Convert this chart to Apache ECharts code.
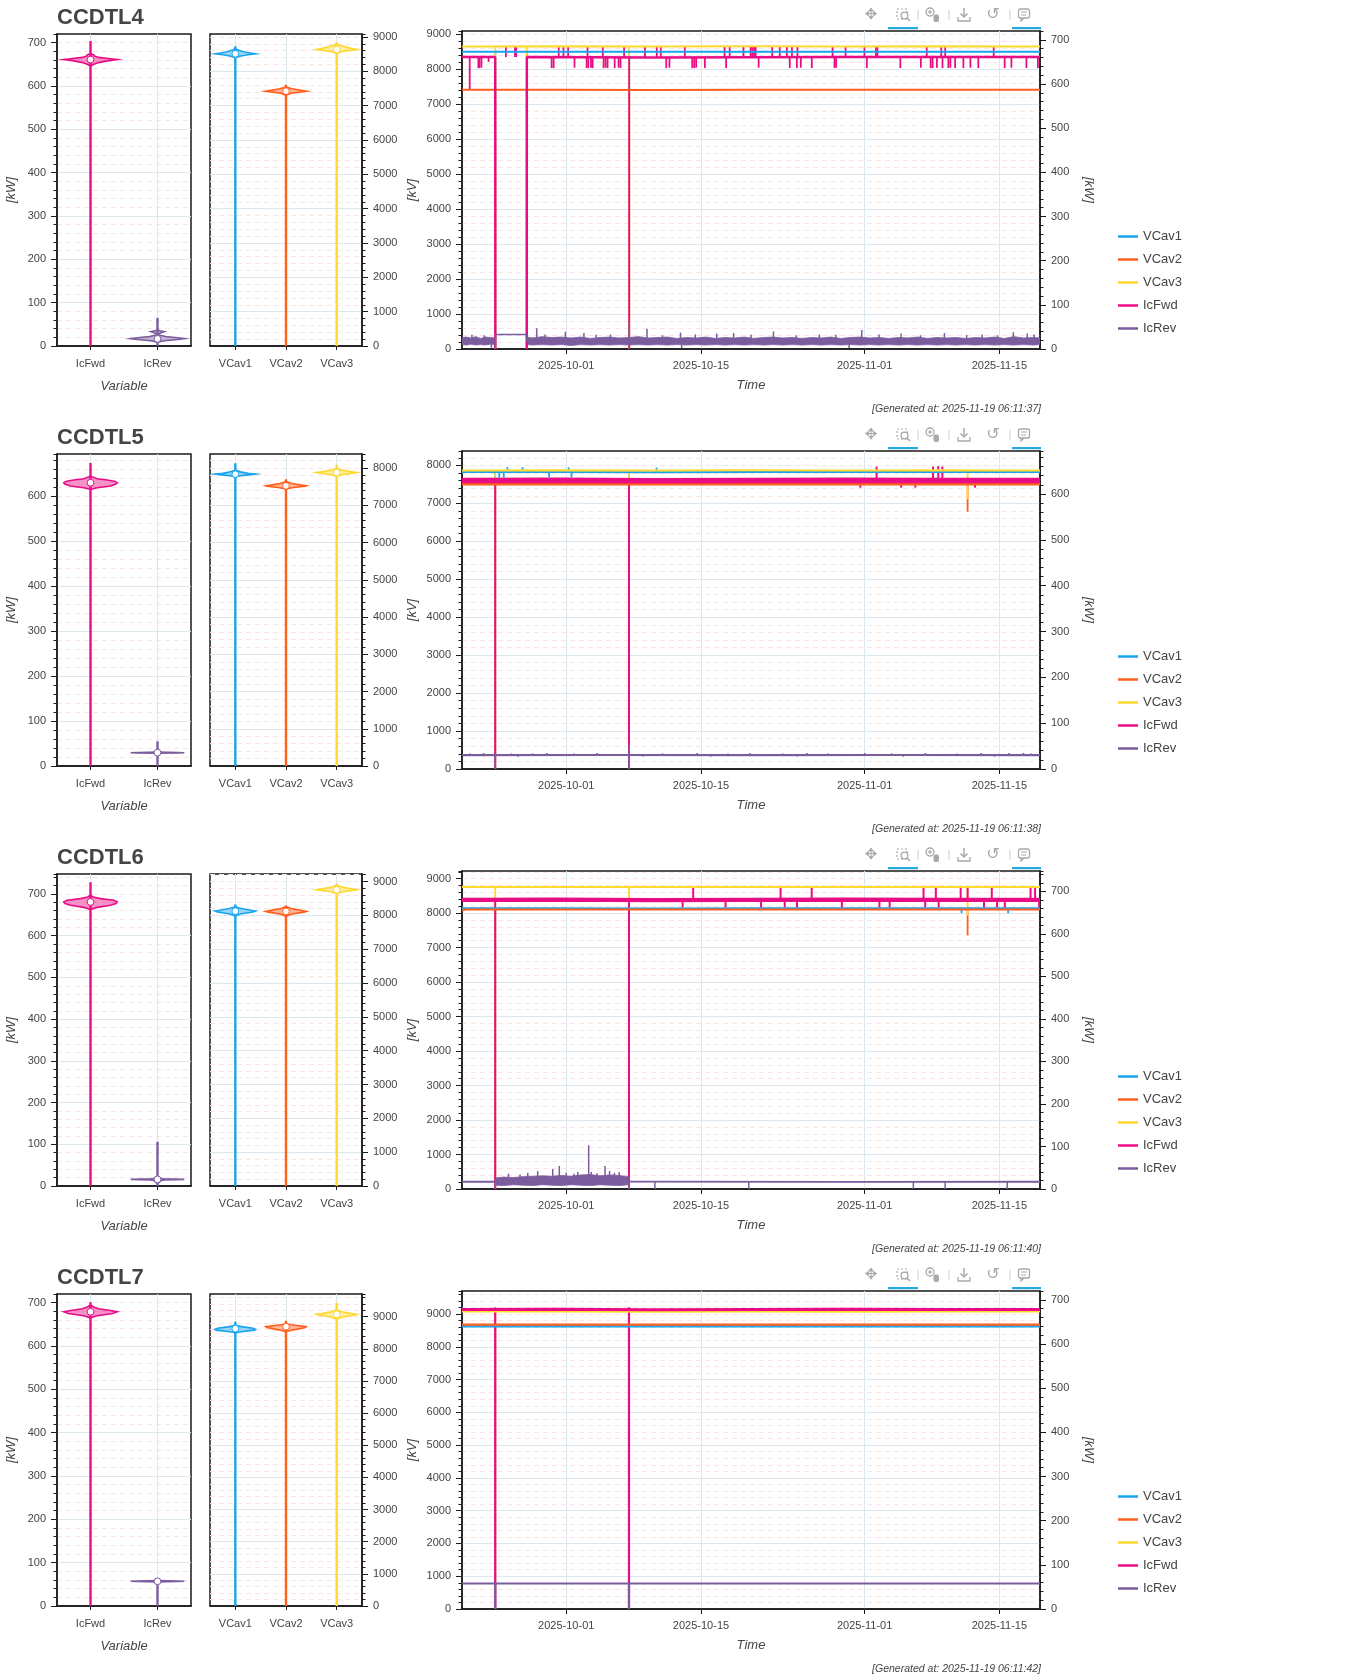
<!DOCTYPE html>
<html><head><meta charset="utf-8">
<script src="https://cdn.jsdelivr.net/npm/echarts@6/dist/echarts.min.js"></script>
<style>html,body{margin:0;padding:0;background:#fff;width:1354px;height:1680px;overflow:hidden}.panel{position:absolute;left:0;width:1354px;height:420px}</style>
</head><body>
<div id="p0" class="panel" style="top:0px"></div>
<div id="p1" class="panel" style="top:420px"></div>
<div id="p2" class="panel" style="top:840px"></div>
<div id="p3" class="panel" style="top:1260px"></div>
<script>
// ---------------- shared data ----------------
const categoriesKW = ['IcFwd', 'IcRev'];
const categoriesKV = ['VCav1', 'VCav2', 'VCav3'];
const seriesNames = ['VCav1', 'VCav2', 'VCav3', 'IcFwd', 'IcRev'];
const dateTickDays = [11, 25, 42, 56];            // days after 2025-09-20 00:00
const dateTickLabels = ['2025-10-01', '2025-10-15', '2025-11-01', '2025-11-15'];
const timeRange = [0.17, 60.22];
const kwTicks = [0, 100, 200, 300, 400, 500, 600, 700];
const kvTicks9 = [0, 1000, 2000, 3000, 4000, 5000, 6000, 7000, 8000, 9000];
const kvTicks8 = [0, 1000, 2000, 3000, 4000, 5000, 6000, 7000, 8000];
const panelTitles = ['CCDTL4', 'CCDTL5', 'CCDTL6', 'CCDTL7'];
const generatedTexts = ['[Generated at: 2025-11-19 06:11:37]', '[Generated at: 2025-11-19 06:11:38]',
  '[Generated at: 2025-11-19 06:11:40]', '[Generated at: 2025-11-19 06:11:42]'];
const kwAxisMax = [720, 694, 748, 720];
const kvAxisMax = [9085, 8380, 9222, 9705];

// ---------------- CCDTL4 ----------------
const c4_vIcFwd = [[646,0],[650,0.05],[654,0.12],[658,0.25],[661,0.4],[663,0.3],[666,0.12],[669,0.06],[672,0.05],[675,0]];
const c4_vIcRev = [[9,0],[12,0.1],[15,0.3],[17,0.4],[19,0.3],[22,0.12],[25,0.04],[28,0.02],[31,0.06],[33,0.1],[35,0.04],[37,0]];
const c4_vVCav1 = [[8390,0],[8440,0.08],[8480,0.25],[8506,0.4],[8530,0.3],[8570,0.16],[8620,0.06],[8660,0]];
const c4_vVCav2 = [[7300,0],[7360,0.1],[7400,0.3],[7420,0.4],[7445,0.3],[7490,0.12],[7540,0]];
const c4_vVCav3 = [[8520,0],[8580,0.12],[8620,0.35],[8632,0.4],[8660,0.3],[8720,0.15],[8790,0]];
const c4_kwMed = [661, 16.5], c4_kwMax = [704, 65];
const c4_kvMed = [8506, 7420, 8632], c4_kvMax = [8729, 7604, 8845];

const c4_VCav1 = [[0.17,8492],[8,8495],[16,8490],[24,8494],[32,8489],[40,8493],[48,8490],[56,8494],[60.22,8491]];
const c4_VCav2 = [[0.17,7405],[10,7408],[20,7402],[30,7406],[40,7403],[50,7407],[60.22,7404]];
const c4_VCav3 = [[0.17,8645],[10,8648],[20,8643],[30,8647],[40,8644],[50,8648],[60.22,8645]];
const c4_IcFwd = [[0.17,661],[3.62,661],[3.63,0],[5.2,null],[6.90,0],[6.91,661],[20,660],[40,661],[60.22,661]];
const c4_IcRev = [[0.17,17],[3.62,17],[3.63,0],[3.65,33],[6.89,33],[6.91,17],[60.22,17]];
const c4_VCav1_spk = [[3.63,0],[6.90,0],[17.54,0]];
const c4_VCav2_spk = [[3.63,0],[6.90,0],[17.54,0]];
const c4_VCav3_spk = [[3.63,0],[6.90,0],[17.54,0]];
const c4_IcFwd_spk = [[0.97,588],[17.54,0],
  [4.73,684],[5.67,684],[5.80,685],[10.22,684],[10.71,684],[11.20,685],[13.21,684],[14.80,684],[17.01,685],[19.18,684],
  [20.41,684],[20.82,684],[23.32,685],[27.45,684],[27.98,684],[29.41,685],[30.15,684],[30.32,684],[30.52,685],[30.68,684],
  [32.40,684],[33.18,684],[33.92,685],[34.45,684],[35.02,684],[38.67,685],[40.02,684],[41.98,684],[43.17,685],[43.33,684],
  [48.45,684],[49.96,685],[50.37,684],[55.41,684],
  [1.87,636],[1.99,636],[2.19,637],[2.93,650],[9.48,636],[9.69,636],[11.86,637],[13.12,636],[13.29,636],[13.57,637],
  [13.74,636],[14.88,636],[15.09,637],[15.29,636],[16.03,636],[16.44,637],[16.64,636],[21.39,636],[21.72,637],[24.09,636],
  [24.30,636],[24.50,637],[25.40,636],[27.61,636],[30.99,637],[34.22,636],[34.96,636],[35.37,637],[36.51,636],[38.87,636],
  [39.04,637],[42.23,636],[45.71,636],[47.84,637],[48.86,636],[49.06,636],[49.51,637],[50.09,636],[50.70,636],[50.91,637],
  [51.40,636],[52.26,636],[52.99,637],[53.81,636],[56.55,636],[57.25,637],[58.81,636],[60.0,636]];
const c4_IcRev_band = [
  [[0.17,10,26],[0.6,9,27],[1.1,11,25],[1.6,9,28],[2.1,10,24],[2.6,9,27],[3.1,11,26],[3.6,10,25]],
  [[6.92,10,27],[7.5,9,25],[8.5,10,28],[9.5,9,26],[10.5,10,27],[11.5,8,25],[12.5,10,27],[13.5,9,24],[14.5,10,26],
   [15.5,9,27],[16.5,10,25],[17.5,9,26],[18.5,10,28],[19.5,9,25],[20.5,10,26],[21.5,9,27],[22.5,10,24],[23.5,9,26],
   [24.5,10,25],[25.5,9,27],[26.5,10,24],[27.5,9,26],[28.5,10,25],[29.5,9,27],[30.5,10,24],[31.5,9,26],[32.5,10,27],
   [33.5,9,25],[34.5,10,26],[35.5,9,24],[36.5,10,26],[37.5,9,25],[38.5,10,27],[39.5,9,24],[40.5,10,26],[41.5,9,27],
   [42.5,10,25],[43.5,9,26],[44.5,10,24],[45.5,9,26],[46.5,10,25],[47.5,9,27],[48.5,10,24],[49.5,9,26],[50.5,10,25],
   [51.5,9,26],[52.5,10,24],[53.5,9,26],[54.5,10,25],[55.5,9,27],[56.5,10,24],[57.5,9,28],[58.5,10,25],[59.5,9,26],[60.22,10,25]]];
const c4_IcRev_spk = [[7.93,47],[10.91,39],[12.84,36],[17.54,62],[19.39,46],[22.87,37],[26.63,35],[28.39,36],[32.53,40],
  [41.70,43],[45.79,35],[50.29,36],[57.45,38],[58.89,35],[1.2,32],[2.5,31],[8.8,33],[14.1,32],[15.6,33],[21.0,31],
  [24.4,33],[30.2,32],[34.9,31],[37.3,33],[39.0,32],[43.5,33],[47.8,31],[52.6,32],[54.2,33],[55.8,31],[59.6,33],
  [3.22,3],[22.99,2],[40.39,2]];

// ---------------- CCDTL5 ----------------
const c5_vIcFwd = [[615,0],[619,0.1],[623,0.3],[627,0.38],[630,0.4],[633,0.37],[636,0.25],[639,0.1],[642,0.05],[645,0]];
const c5_vIcRev = [[28.5,0],[29.2,0.3],[29.6,0.4],[30.1,0.3],[30.8,0]];
const c5_vVCav1 = [[7760,0],[7800,0.12],[7830,0.35],[7840,0.4],[7860,0.25],[7900,0.1],[7950,0]];
const c5_vVCav2 = [[7440,0],[7480,0.15],[7515,0.38],[7524,0.4],[7545,0.3],[7590,0.12],[7640,0]];
const c5_vVCav3 = [[7780,0],[7830,0.12],[7870,0.36],[7882,0.4],[7900,0.3],[7940,0.12],[7990,0]];
const c5_kwMed = [630, 29.6], c5_kwMax = [674, 55];
const c5_kvMed = [7837, 7524, 7882], c5_kvMax = [8132, 7703, 8088];

const c5_VCav1 = [[0.17,7825],[10,7828],[20,7823],[30,7826],[40,7824],[50,7827],[60.22,7825]];
const c5_VCav2 = [[0.17,7505],[10,7508],[20,7503],[30,7506],[40,7504],[50,7507],[60.22,7505]];
const c5_VCav3 = [[0.17,7869],[10,7872],[20,7867],[30,7870],[40,7868],[50,7871],[60.22,7869]];
const c5_IcFwd = [[0.17,629.5],[10,630],[20,629],[30,629.5],[40,630],[50,629.5],[60.22,629.5]];
const c5_IcRev = [[0.17,30.4],[15,30.6],[30,30.3],[45,30.5],[60.22,30.4]];
const c5_VCav1_spk = [[3.62,0],[17.52,0],[4.89,7956],[6.46,7956],[11.25,7950],[20.38,7945],[4.04,7680],[4.51,7680],[9.22,7690],[11.55,7685]];
const c5_VCav2_spk = [[3.62,0],[17.52,0],[52.70,6780]];
const c5_VCav3_spk = [[3.62,0],[17.52,0],[52.70,7110]];
const c5_IcFwd_spk = [[3.62,0],[17.52,0],[43.24,660],[49.10,660],[49.65,661],[50.08,660],[41.55,614],[45.79,614],[47.27,614],[53.47,614]];
const c5_IcRev_spk = [[3.62,0],[17.52,0],[17.54,53],[1.0,34],[2.4,35],[5.3,34],[7.5,34],[9.0,35],[11.8,34],[14.2,35],
  [21.0,34],[24.6,35],[27.8,34],[30.1,35],[33.5,34],[36.0,35],[38.2,34],[42.0,35],[44.8,34],[48.3,35],[51.6,34],
  [54.1,35],[57.0,35],[58.5,35],[59.3,34],[6.0,27],[19.0,27],[26.0,27],[35.0,27],[46.0,27],[55.5,27]];

// ---------------- CCDTL6 ----------------
const c6_vIcFwd = [[663,0],[668,0.1],[673,0.3],[677,0.38],[681,0.4],[685,0.35],[689,0.15],[693,0.04],[697,0]];
const c6_vIcRev = [[7,0],[9,0.03],[12,0.03],[14.5,0.1],[16,0.4],[17.5,0.1],[19,0]];
const c6_vVCav1 = [[7980,0],[8040,0.1],[8100,0.35],[8125,0.4],[8150,0.3],[8200,0.12],[8255,0]];
const c6_vVCav2 = [[7970,0],[8030,0.1],[8095,0.35],[8116,0.4],[8140,0.32],[8200,0.1],[8260,0]];
const c6_vVCav3 = [[8640,0],[8700,0.12],[8740,0.35],[8754,0.4],[8775,0.32],[8830,0.12],[8890,0]];
const c6_kwMed = [681, 16], c6_kwMax = [728, 106];
const c6_kvMed = [8125, 8116, 8754], c6_kvMax = [8322, 8292, 8941];

const c6_VCav1 = [[0.17,8140],[10,8142],[20,8138],[30,8141],[40,8139],[50,8142],[60.22,8140]];
const c6_VCav2 = [[0.17,8080],[0.6,8105],[10,8107],[20,8103],[30,8106],[40,8104],[50,8107],[60.22,8105]];
const c6_VCav3 = [[0.17,8758],[10,8761],[20,8756],[30,8759],[40,8757],[50,8760],[60.22,8758]];
const c6_IcFwd = [[0.17,680],[10,680.5],[20,679.5],[30,680],[40,680.5],[50,680],[60.22,680]];
const c6_IcRev = [[0.17,17],[20,17.2],[40,16.9],[60.22,17]];
const c6_VCav1_spk = [[3.62,0],[17.52,0],[52.07,8000],[56.91,8000]];
const c6_VCav2_spk = [[3.62,0],[17.52,0],[52.70,7353]];
const c6_VCav3_spk = [[3.62,0],[17.52,0],[52.70,7930]];
const c6_IcFwd_spk = [[3.62,0],[17.52,0],
  [24.19,711],[33.27,711],[36.50,711],[48.12,711],[49.40,711],[51.98,711],[52.70,711],[55.21,711],[59.24,711],[59.71,711],
  [23.09,662],[27.55,662],[31.24,662],[33.70,662],[34.97,662],[39.64,662],[43.54,662],[44.60,662],[48.29,662],[49.69,662],
  [54.40,662],[55.76,662],[56.57,662],[60.13,662]];
const c6_IcRev_band = [
  [[3.66,9,26],[4.5,8,28],[5.5,10,27],[6.5,9,29],[7.5,8,30],[8.5,10,31],[9.5,9,30],[10.5,8,32],[11.5,10,30],[12.5,9,33],
   [13.5,8,34],[14.5,10,31],[15.5,9,33],[16.5,8,32],[17.45,10,29]]];
const c6_IcRev_spk = [[3.62,0],[17.52,0],[8.03,42],[9.6,47],[10.28,54],[13.33,103],[13.6,40],[15.03,54],[15.5,42],[16.5,40],
  [5.0,36],[6.2,34],[7.0,38],[11.0,38],[11.8,36],[12.2,40],[14.2,37],[16.0,38],
  [20.21,0],[29.96,0],[47.06,0],[50.37,0],[56.82,0]];

// ---------------- CCDTL7 ----------------
const c7_vIcFwd = [[665,0],[670,0.1],[675,0.33],[679,0.4],[682,0.3],[686,0.12],[690,0.05],[694,0]];
const c7_vIcRev = [[55.5,0],[56.5,0.3],[57,0.4],[57.7,0.3],[58.5,0]];
const c7_vVCav1 = [[8500,0],[8540,0.15],[8580,0.38],[8610,0.4],[8640,0.35],[8690,0.12],[8730,0]];
const c7_vVCav2 = [[8530,0],[8590,0.15],[8660,0.38],[8689,0.4],[8710,0.3],[8750,0.1],[8780,0]];
const c7_vVCav3 = [[8920,0],[8990,0.12],[9050,0.36],[9072,0.4],[9095,0.3],[9150,0.1],[9210,0]];
const c7_kwMed = [679, 57], c7_kwMax = [701, 57];
const c7_kvMed = [8627, 8689, 9072], c7_kvMax = [8845, 8876, 9444];

const c7_VCav1 = [[0.17,8625],[10,8628],[20,8623],[30,8626],[40,8624],[50,8627],[60.22,8625]];
const c7_VCav2 = [[0.17,8680],[10,8683],[20,8678],[30,8681],[40,8679],[50,8682],[60.22,8680]];
const c7_VCav3 = [[0.17,9079],[10,9082],[20,9077],[30,9080],[40,9078],[50,9081],[60.22,9079]];
const c7_IcFwd = [[0.17,678],[10,678.5],[20,677.5],[30,678],[40,678.5],[50,678],[60.22,678]];
const c7_IcRev = [[0.17,57.9],[20,58],[40,57.8],[60.22,57.9]];
const c7_VCav1_spk = [[3.62,0],[17.52,0]];
const c7_VCav2_spk = [[3.62,0],[17.52,0]];
const c7_VCav3_spk = [[3.62,0],[17.52,0]];
const c7_IcFwd_spk = [[3.62,0],[17.52,0],[3.63,683],[17.53,683]];
const c7_IcRev_spk = [[3.62,0],[17.52,0]];

// ---------------- styling ----------------
const FONT = '"Liberation Sans", Arial, Helvetica, sans-serif';
const TXT = '#444444';
const AX = '#1a1a1a';
const GRID_MAJOR = '#dae7ef';
const GRID_MINOR = '#fae4ea';
const COLORS = { VCav1: '#19a5ec', VCav2: '#ff5e1c', VCav3: '#ffd92e', IcFwd: '#e90d85', IcRev: '#7b5c9d' };

function rgba(hex, a) {
  const n = parseInt(hex.slice(1), 16);
  return 'rgba(' + ((n >> 16) & 255) + ',' + ((n >> 8) & 255) + ',' + (n & 255) + ',' + a + ')';
}
const nameStyle = { fontStyle: 'italic', fontSize: 13, color: TXT, fontFamily: FONT };

function minorY(grid, pos, max, step, showSplit) {
  return { type: 'value', gridIndex: grid, position: pos, min: 0, max: max, interval: step,
    axisLine: { show: false, onZero: false }, axisLabel: { show: false },
    axisTick: { show: true, length: 3.5, lineStyle: { color: AX, width: 1 } },
    splitLine: { show: showSplit, showMinLine: false, showMaxLine: false, lineStyle: { color: GRID_MINOR, type: [5, 4], width: 1 } } };
}
function majorY(grid, pos, max, ticks, name, gap, rot, showSplit) {
  const ax = { type: 'value', gridIndex: grid, position: pos, min: 0, max: max,
    axisLine: { show: true, onZero: false, lineStyle: { color: AX, width: 1.5 } },
    axisTick: { show: true, length: 6, customValues: ticks, lineStyle: { color: AX, width: 1 } },
    axisLabel: { customValues: ticks, formatter: v => String(v), color: TXT, fontSize: 11, fontFamily: FONT, margin: 11 },
    splitLine: { show: showSplit, showMinLine: false, showMaxLine: false, lineStyle: { color: GRID_MAJOR, width: 1 } } };
  if (name) { ax.name = name; ax.nameLocation = 'middle'; ax.nameGap = gap; ax.nameTextStyle = nameStyle; if (rot !== null) ax.nameRotate = rot; }
  return ax;
}
function catX(grid, cats, name) {
  const vals = cats.map((c, i) => i);
  const ax = { type: 'value', gridIndex: grid, min: -0.5, max: cats.length - 0.5,
    axisLine: { onZero: false, lineStyle: { color: AX, width: 1.5 } },
    axisTick: { customValues: vals, length: 4, lineStyle: { color: AX } },
    axisLabel: { customValues: vals, formatter: v => cats[Math.round(v)], color: TXT, fontSize: 11, fontFamily: FONT, margin: 12 },
    splitLine: { show: true, lineStyle: { color: GRID_MAJOR, width: 1 } } };
  if (name) { ax.name = name; ax.nameLocation = 'middle'; ax.nameGap = 34; ax.nameTextStyle = nameStyle; }
  return ax;
}

function violinSeries(profile, cat, med, wmax, color, xi, yi) {
  return { type: 'custom', xAxisIndex: xi, yAxisIndex: yi, data: [[cat, med, wmax]], encode: { x: 0, y: 1 },
    silent: true, animation: false, clip: true,
    renderItem: function (params, api) {
      const right = profile.map(p => api.coord([cat + p[1], p[0]]));
      const left = profile.slice().reverse().map(p => api.coord([cat - p[1], p[0]]));
      const w0 = api.coord([cat, 0]);
      const w1 = api.coord([cat, api.value(2)]);
      const m = api.coord([cat, api.value(1)]);
      return { type: 'group', children: [
        { type: 'line', shape: { x1: w0[0], y1: w0[1], x2: w1[0], y2: w1[1] }, style: { stroke: color, lineWidth: 2.4 } },
        { type: 'polygon', shape: { points: right.concat(left) }, style: { fill: rgba(color, 0.45), stroke: color, lineWidth: 1.6 } },
        { type: 'circle', shape: { cx: m[0], cy: m[1], r: 3.4 }, style: { fill: '#ffffff', stroke: color, lineWidth: 1 } }
      ] };
    } };
}
function lineSeries(name, data, yi, width) {
  return { type: 'line', name: name, xAxisIndex: 2, yAxisIndex: yi, data: data, showSymbol: false, symbol: 'none',
    connectNulls: false, lineStyle: { color: COLORS[name], width: width }, itemStyle: { color: COLORS[name] }, silent: true, animation: false };
}
function spikeSeries(name, data, base, yi, width) {
  const color = COLORS[name];
  return { type: 'custom', name: name + ' events', xAxisIndex: 2, yAxisIndex: yi, data: data, encode: { x: 0, y: 1 },
    silent: true, animation: false, clip: true,
    renderItem: function (params, api) {
      const p0 = api.coord([api.value(0), base]);
      const p1 = api.coord([api.value(0), api.value(1)]);
      return { type: 'line', shape: { x1: p0[0], y1: p0[1], x2: p1[0], y2: p1[1] }, style: { stroke: color, lineWidth: width } };
    } };
}
function bandSeries(name, segments, yi) {
  const color = COLORS[name];
  return { type: 'custom', name: name + ' band', xAxisIndex: 2, yAxisIndex: yi,
    data: segments.map((s, i) => [s[0][0], s[0][2], i]), encode: { x: 0, y: 1 },
    silent: true, animation: false, clip: true,
    renderItem: function (params, api) {
      const seg = segments[params.dataIndex];
      const top = seg.map(p => api.coord([p[0], p[2]]));
      const bot = seg.slice().reverse().map(p => api.coord([p[0], p[1]]));
      return { type: 'polygon', shape: { points: top.concat(bot) }, style: { fill: color, stroke: color, lineWidth: 0.8 } };
    } };
}

function toolbarGraphics() {
  const g = '#a8a8a8';
  const els = [];
  els.push({ type: 'text', x: 871, y: 15, style: { text: '\u2725', fontSize: 15, fill: g, align: 'center', verticalAlign: 'middle', fontFamily: 'DejaVu Sans' } });
  els.push({ type: 'rect', shape: { x: 897, y: 9, width: 10, height: 10 }, style: { fill: 'none', stroke: g, lineWidth: 1.2, lineDash: [2, 2] } });
  els.push({ type: 'circle', shape: { cx: 904.5, cy: 15.5, r: 3.4 }, style: { fill: '#fff', stroke: g, lineWidth: 1.3 } });
  els.push({ type: 'line', shape: { x1: 907, y1: 18, x2: 910, y2: 21 }, style: { stroke: g, lineWidth: 1.6 } });
  [918, 949, 1010].forEach(x => els.push({ type: 'line', shape: { x1: x, y1: 10, x2: x, y2: 20 }, style: { stroke: '#cfcfcf', lineWidth: 1 } }));
  els.push({ type: 'circle', shape: { cx: 930, cy: 12, r: 4 }, style: { fill: 'none', stroke: g, lineWidth: 1.3 } });
  els.push({ type: 'line', shape: { x1: 928, y1: 12, x2: 932, y2: 12 }, style: { stroke: g, lineWidth: 1.2 } });
  els.push({ type: 'line', shape: { x1: 930, y1: 10, x2: 930, y2: 14 }, style: { stroke: g, lineWidth: 1.2 } });
  els.push({ type: 'rect', shape: { x: 933.5, y: 14.5, width: 5.5, height: 7.5, r: 2 }, style: { fill: g } });
  els.push({ type: 'line', shape: { x1: 964, y1: 8, x2: 964, y2: 17 }, style: { stroke: g, lineWidth: 1.5 } });
  els.push({ type: 'polyline', shape: { points: [[960.5, 13.5], [964, 17], [967.5, 13.5]] }, style: { stroke: g, lineWidth: 1.5, fill: 'none' } });
  els.push({ type: 'polyline', shape: { points: [[958, 17], [958, 21], [970, 21], [970, 17]] }, style: { stroke: g, lineWidth: 1.3, fill: 'none' } });
  els.push({ type: 'text', x: 993, y: 15, style: { text: '\u21BA', fontSize: 16, fill: g, align: 'center', verticalAlign: 'middle', fontFamily: 'DejaVu Sans' } });
  els.push({ type: 'rect', shape: { x: 1018.5, y: 9, width: 11, height: 9, r: 2 }, style: { fill: 'none', stroke: g, lineWidth: 1.3 } });
  els.push({ type: 'polyline', shape: { points: [[1021, 18], [1021, 21], [1024, 18]] }, style: { stroke: g, lineWidth: 1.2, fill: 'none' } });
  els.push({ type: 'line', shape: { x1: 1021, y1: 12, x2: 1027, y2: 12 }, style: { stroke: g, lineWidth: 1 } });
  els.push({ type: 'line', shape: { x1: 1021, y1: 15, x2: 1026, y2: 15 }, style: { stroke: g, lineWidth: 1 } });
  els.push({ type: 'rect', shape: { x: 888, y: 27, width: 30, height: 2.2 }, style: { fill: '#27a8e0' } });
  els.push({ type: 'rect', shape: { x: 1012, y: 27, width: 29, height: 2.2 }, style: { fill: '#27a8e0' } });
  return els;
}

function buildOption(P) {
  const gridStyle = { show: true, borderColor: AX, borderWidth: 1.5, backgroundColor: 'transparent' };
  const grid = [
    Object.assign({ left: 57, top: 34, width: 134, height: 312 }, gridStyle),
    Object.assign({ left: 210, top: 34, width: 152, height: 312 }, gridStyle),
    Object.assign({ left: 462, top: 31, width: 578, height: 318 }, gridStyle)
  ];
  const xAxis = [
    catX(0, categoriesKW, 'Variable'),
    catX(1, categoriesKV, null),
    { type: 'value', gridIndex: 2, min: timeRange[0], max: timeRange[1],
      axisLine: { onZero: false, lineStyle: { color: AX, width: 1.5 } },
      axisTick: { customValues: dateTickDays, length: 5, lineStyle: { color: AX } },
      axisLabel: { customValues: dateTickDays, formatter: v => { const i = dateTickDays.indexOf(v); return i >= 0 ? dateTickLabels[i] : ''; },
        color: TXT, fontSize: 11, fontFamily: FONT, margin: 11 },
      splitLine: { show: true, lineStyle: { color: GRID_MAJOR, width: 1 } },
      name: 'Time', nameLocation: 'middle', nameGap: 30, nameTextStyle: nameStyle }
  ];
  const yAxis = [
    minorY(0, 'left', P.kwMaxAxis, 20, true),                                // 0
    majorY(0, 'left', P.kwMaxAxis, kwTicks, '[kW]', 39, null, true),        // 1
    minorY(1, 'right', P.kvMaxAxis, 200, true),                              // 2
    majorY(1, 'right', P.kvMaxAxis, P.kvTicks, null, 0, null, true),         // 3
    minorY(2, 'left', P.kvMaxAxis, 200, true),                               // 4
    majorY(2, 'left', P.kvMaxAxis, P.kvTicks, '[kV]', 43, null, true),      // 5
    minorY(2, 'right', P.kwMaxAxis, 20, false),                              // 6
    majorY(2, 'right', P.kwMaxAxis, kwTicks, '[kW]', 42, -90, false)        // 7
  ];
  const series = [];
  series.push(violinSeries(P.vIcFwd, 0, P.kwMed[0], P.kwMax[0], COLORS.IcFwd, 0, 1));
  series.push(violinSeries(P.vIcRev, 1, P.kwMed[1], P.kwMax[1], COLORS.IcRev, 0, 1));
  series.push(violinSeries(P.vVCav1, 0, P.kvMed[0], P.kvMax[0], COLORS.VCav1, 1, 3));
  series.push(violinSeries(P.vVCav2, 1, P.kvMed[1], P.kvMax[1], COLORS.VCav2, 1, 3));
  series.push(violinSeries(P.vVCav3, 2, P.kvMed[2], P.kvMax[2], COLORS.VCav3, 1, 3));
  seriesNames.forEach(nm => {
    const yi = nm.indexOf('VCav') === 0 ? 5 : 7;
    const d = P.ts[nm];
    if (d.band) series.push(bandSeries(nm, d.band, yi));
    series.push(lineSeries(nm, d.line, yi, d.width));
    series.push(spikeSeries(nm, d.spk, d.base, yi, d.spkWidth));
  });
  return {
    animation: false,
    textStyle: { fontFamily: FONT },
    grid: grid, xAxis: xAxis, yAxis: yAxis, series: series,
    legend: { data: seriesNames, orient: 'vertical', left: 1113, top: 225, itemWidth: 20, itemHeight: 2.5, itemGap: 10,
      icon: 'rect', selectedMode: false, textStyle: { fontSize: 13, color: TXT, fontFamily: FONT } },
    graphic: [
      { type: 'text', x: 57, y: 17.5, style: { text: P.title, fontSize: 22, fontWeight: 'bold', fill: TXT, fontFamily: FONT, verticalAlign: 'middle' } },
      { type: 'text', x: 1041, y: 409, style: { text: P.generated, fontSize: 10.5, fontStyle: 'italic', fill: TXT, fontFamily: FONT, align: 'right', verticalAlign: 'middle' } }
    ].concat(toolbarGraphics())
  };
}

const panels = [
  { title: panelTitles[0], generated: generatedTexts[0], kwMaxAxis: kwAxisMax[0], kvMaxAxis: kvAxisMax[0], kvTicks: kvTicks9,
    vIcFwd: c4_vIcFwd, vIcRev: c4_vIcRev, vVCav1: c4_vVCav1, vVCav2: c4_vVCav2, vVCav3: c4_vVCav3,
    kwMed: c4_kwMed, kwMax: c4_kwMax, kvMed: c4_kvMed, kvMax: c4_kvMax,
    ts: { VCav1: { line: c4_VCav1, spk: c4_VCav1_spk, base: 8492, width: 2, spkWidth: 1.8 },
          VCav2: { line: c4_VCav2, spk: c4_VCav2_spk, base: 7405, width: 2, spkWidth: 1.8 },
          VCav3: { line: c4_VCav3, spk: c4_VCav3_spk, base: 8645, width: 2, spkWidth: 1.8 },
          IcFwd: { line: c4_IcFwd, spk: c4_IcFwd_spk, base: 661, width: 2.4, spkWidth: 1.8 },
          IcRev: { line: c4_IcRev, spk: c4_IcRev_spk, base: 17, width: 1.6, spkWidth: 1.5, band: c4_IcRev_band } } },
  { title: panelTitles[1], generated: generatedTexts[1], kwMaxAxis: kwAxisMax[1], kvMaxAxis: kvAxisMax[1], kvTicks: kvTicks8,
    vIcFwd: c5_vIcFwd, vIcRev: c5_vIcRev, vVCav1: c5_vVCav1, vVCav2: c5_vVCav2, vVCav3: c5_vVCav3,
    kwMed: c5_kwMed, kwMax: c5_kwMax, kvMed: c5_kvMed, kvMax: c5_kvMax,
    ts: { VCav1: { line: c5_VCav1, spk: c5_VCav1_spk, base: 7825, width: 2, spkWidth: 1.8 },
          VCav2: { line: c5_VCav2, spk: c5_VCav2_spk, base: 7505, width: 2.5, spkWidth: 1.8 },
          VCav3: { line: c5_VCav3, spk: c5_VCav3_spk, base: 7869, width: 2, spkWidth: 1.8 },
          IcFwd: { line: c5_IcFwd, spk: c5_IcFwd_spk, base: 629.5, width: 5.5, spkWidth: 2 },
          IcRev: { line: c5_IcRev, spk: c5_IcRev_spk, base: 30.4, width: 2.2, spkWidth: 1.6 } } },
  { title: panelTitles[2], generated: generatedTexts[2], kwMaxAxis: kwAxisMax[2], kvMaxAxis: kvAxisMax[2], kvTicks: kvTicks9,
    vIcFwd: c6_vIcFwd, vIcRev: c6_vIcRev, vVCav1: c6_vVCav1, vVCav2: c6_vVCav2, vVCav3: c6_vVCav3,
    kwMed: c6_kwMed, kwMax: c6_kwMax, kvMed: c6_kvMed, kvMax: c6_kvMax,
    ts: { VCav1: { line: c6_VCav1, spk: c6_VCav1_spk, base: 8140, width: 2, spkWidth: 1.8 },
          VCav2: { line: c6_VCav2, spk: c6_VCav2_spk, base: 8105, width: 2, spkWidth: 1.8 },
          VCav3: { line: c6_VCav3, spk: c6_VCav3_spk, base: 8758, width: 2, spkWidth: 1.8 },
          IcFwd: { line: c6_IcFwd, spk: c6_IcFwd_spk, base: 680, width: 4.2, spkWidth: 2 },
          IcRev: { line: c6_IcRev, spk: c6_IcRev_spk, base: 17, width: 1.8, spkWidth: 1.5, band: c6_IcRev_band } } },
  { title: panelTitles[3], generated: generatedTexts[3], kwMaxAxis: kwAxisMax[3], kvMaxAxis: kvAxisMax[3], kvTicks: kvTicks9,
    vIcFwd: c7_vIcFwd, vIcRev: c7_vIcRev, vVCav1: c7_vVCav1, vVCav2: c7_vVCav2, vVCav3: c7_vVCav3,
    kwMed: c7_kwMed, kwMax: c7_kwMax, kvMed: c7_kvMed, kvMax: c7_kvMax,
    ts: { VCav1: { line: c7_VCav1, spk: c7_VCav1_spk, base: 8625, width: 2.2, spkWidth: 1.8 },
          VCav2: { line: c7_VCav2, spk: c7_VCav2_spk, base: 8680, width: 2.2, spkWidth: 1.8 },
          VCav3: { line: c7_VCav3, spk: c7_VCav3_spk, base: 9079, width: 2.2, spkWidth: 1.8 },
          IcFwd: { line: c7_IcFwd, spk: c7_IcFwd_spk, base: 678, width: 3, spkWidth: 2.2 },
          IcRev: { line: c7_IcRev, spk: c7_IcRev_spk, base: 57.9, width: 2, spkWidth: 2.2 } } }
];

panels.forEach((P, i) => {
  const chart = echarts.init(document.getElementById('p' + i), null, { renderer: 'canvas', width: 1354, height: 420 });
  chart.setOption(buildOption(P));
});
</script>
</body></html>
